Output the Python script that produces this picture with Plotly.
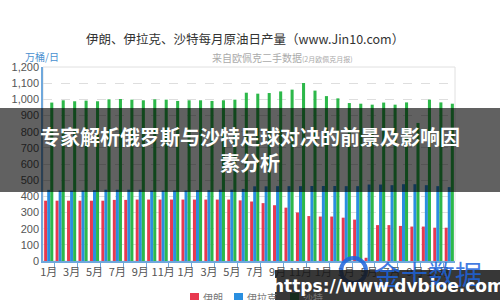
import plotly.graph_objects as go

months = ["1月", "2月", "3月", "4月", "5月", "6月", "7月", "8月", "9月", "10月", "11月", "12月"] * 3
iran = [373, 373, 373, 373, 373, 373, 378, 378, 380, 380, 380, 380, 380, 380, 380, 380, 380, 375,
        368, 358, 345, 330, 300, 278, 275, 275, 268, 256, 20, 222, 222, 217, 213, 213, 206, 206]
iraq = [440, 436, 436, 436, 438, 441, 441, 441, 441, 436, 436, 436, 436, 438, 438, 441, 441, 446,
        462, 462, 463, 463, 463, 464, 464, 464, 463, 463, 473, 473, 469, 475, 475, 469, 463, 457]
saudi = [980, 994, 988, 992, 988, 1000, 1002, 998, 994, 1000, 998, 990, 994, 994, 990, 994, 998, 1041,
         1035, 1039, 1049, 1060, 1101, 1054, 1020, 1006, 977, 973, 967, 980, 967, 981, 854, 998, 981, 973]
series_names = ["伊朗", "伊拉克", "沙特"]
colors = ["#e8394f", "#2a8fe0", "#2db84a"]

x = list(range(len(months)))
fig = go.Figure()
for name, vals, c in zip(series_names, [iran, iraq, saudi], colors):
    fig.add_trace(go.Bar(x=x, y=vals, name=name, marker=dict(color=c, line=dict(width=0))))

W, H = 500, 300
L, R, T, B = 43, 45, 67, 39
pw, ph = W - L - R, H - T - B
def px(xp): return (xp - L) / pw
def py(yp): return (H - B - yp) / ph

CJK = "Noto Sans CJK SC, sans-serif"
fig.update_layout(
    width=W, height=H, margin=dict(l=L, r=R, t=T, b=B, autoexpand=False),
    paper_bgcolor="white", plot_bgcolor="white",
    barmode="group", bargap=0.2, bargroupgap=0,
    font=dict(family=CJK, color="#555"),
    showlegend=False,
    xaxis=dict(range=[-0.5, 35.5], tickmode="array", tickvals=x[::2], ticktext=months[::2],
               ticks="", showgrid=False, zeroline=False,
               showline=True, linecolor="#6fa8dc", linewidth=1.5,
               tickfont=dict(size=11, color="#555", family=CJK),
               minor=dict(tickvals=[i + 0.5 for i in x[::2]], ticks="outside", ticklen=4,
                          tickcolor="#6fa8dc", showgrid=False)),
    yaxis=dict(range=[0, 1200], dtick=100, tickformat=",", showgrid=True,
               gridcolor="#dedede", griddash="dash", zeroline=False,
               showline=True, linecolor="#6fa8dc", linewidth=1.5, ticks="",
               tickfont=dict(size=11, color="#555", family="Liberation Sans Narrow, Liberation Sans, Arial")),
)

# plot frame (top/right)
fig.add_shape(type="rect", xref="paper", yref="paper", x0=0, x1=1, y0=0, y1=1,
              line=dict(color="#e0e0e0", width=1), layer="below")

# legend drawn at bottom (partly cut by the page edge like the reference)
leg_x = [190, 234, 290]
for lx, name, c in zip(leg_x, series_names, colors):
    fig.add_shape(type="rect", xref="paper", yref="paper", x0=px(lx), x1=px(lx + 9),
                  y0=py(302), y1=py(293), fillcolor=c, line=dict(width=0))
    fig.add_annotation(text=name, xref="paper", yref="paper", x=px(lx + 11), y=py(297),
                       showarrow=False, xanchor="left", yanchor="middle",
                       font=dict(size=10, color="#777", family=CJK))

fig.add_annotation(text="伊朗、伊拉克、沙特每月原油日产量（www.Jin10.com）", xref="paper", yref="paper",
                   x=px(245), y=py(38), showarrow=False, xanchor="center", yanchor="middle",
                   font=dict(size=12.5, color="#333", family=CJK))
fig.add_annotation(text="来自欧佩克二手数据<span style='font-size:7px'>(2月欧佩克月报)</span>",
                   xref="paper", yref="paper", x=px(210), y=py(58), showarrow=False,
                   xanchor="left", yanchor="middle", font=dict(size=10, color="#aaa", family=CJK))
fig.add_annotation(text="万桶/日", xref="paper", yref="paper", x=px(42), y=py(57), showarrow=False,
                   xanchor="center", yanchor="middle", font=dict(size=10, color="#4a90d0", family=CJK))

# 金十数据 logo watermark
fig.add_shape(type="circle", xref="paper", yref="paper", x0=px(341), x1=px(366), y0=py(283), y1=py(258),
              line=dict(color="rgba(30,100,220,0.85)", width=4), layer="above")
fig.add_annotation(text="金十数据", xref="paper", yref="paper", x=px(372), y=py(273), showarrow=False,
                   xanchor="left", yanchor="middle",
                   font=dict(size=27, color="rgba(30,100,220,0.85)", family=CJK))

# dark band with headline
fig.add_shape(type="rect", xref="paper", yref="paper", x0=px(0), x1=px(500), y0=py(192), y1=py(108),
              fillcolor="rgba(0,0,0,0.62)", line=dict(width=0), layer="above")
fig.add_annotation(text="<b>专家解析俄罗斯与沙特足球对决的前景及影响因<br>素分析</b>", xref="paper", yref="paper",
                   x=px(250), y=py(149), showarrow=False, xanchor="center", yanchor="middle",
                   font=dict(size=20, color="white", family=CJK))

# url watermark box
fig.add_shape(type="rect", xref="paper", yref="paper", x0=px(275), x1=px(500), y0=py(300), y1=py(270),
              fillcolor="rgba(20,20,20,0.85)", line=dict(width=0), layer="above")
fig.add_annotation(text="<b>https://www.dvbioe.com</b>", xref="paper", yref="paper", x=px(388), y=py(286),
                   showarrow=False, xanchor="center", yanchor="middle",
                   font=dict(size=17, color="white", family="DejaVu Sans, sans-serif"))

fig.write_html("out.html")
